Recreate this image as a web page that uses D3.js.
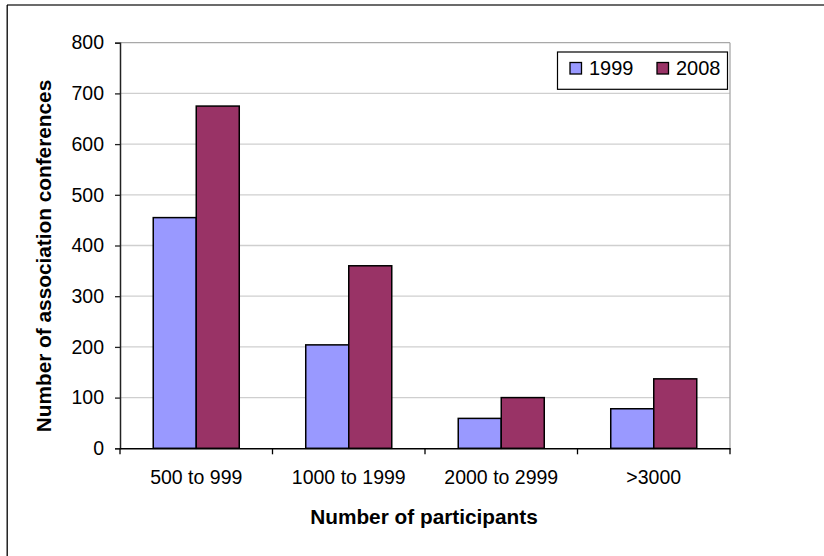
<!DOCTYPE html>
<html>
<head>
<meta charset="utf-8">
<script src="https://cdn.jsdelivr.net/npm/d3@7"></script>
<style>
  html, body { margin: 0; padding: 0; background: #fff; }
  svg { display: block; font-family: "Liberation Sans", Arial, sans-serif; }
</style>
</head>
<body>
<svg id="chart" width="824" height="556"></svg>
<script>
const categories = ["500 to 999", "1000 to 1999", "2000 to 2999", ">3000"];
const seriesNames = ["1999", "2008"];
const values1999 = [455, 204, 59, 78];
const values2008 = [675, 360, 100, 137];
const yTicks = [0, 100, 200, 300, 400, 500, 600, 700, 800];
const colors = ["#9999FF", "#993366"];

const svg = d3.select("#chart");
const W = 824, H = 556;
const plot = { left: 120, right: 730, top: 42.7, bottom: 448.3 };

// outer frame (top and left only, as in the cropped reference)
svg.append("line").attr("x1", 7).attr("x2", W).attr("y1", 5).attr("y2", 5)
  .attr("stroke", "#3a3a3a").attr("stroke-width", 1.5);
svg.append("line").attr("x1", 7.2).attr("x2", 7.2).attr("y1", 5).attr("y2", H)
  .attr("stroke", "#000").attr("stroke-width", 1.3);

const x0 = d3.scaleBand().domain(categories).range([plot.left, plot.right]).padding(0);
const groupFrac = 0.564;
const bw = x0.bandwidth();
const x1 = d3.scaleBand().domain(seriesNames)
  .range([bw * (1 - groupFrac) / 2, bw * (1 + groupFrac) / 2]).padding(0);
const y = d3.scaleLinear().domain([0, 800]).range([plot.bottom, plot.top]);

// gridlines
svg.append("g").selectAll("line").data(yTicks.filter(d => d > 0)).join("line")
  .attr("x1", plot.left).attr("x2", plot.right)
  .attr("y1", d => y(d)).attr("y2", d => y(d))
  .attr("stroke", d => d === 800 ? "#a8a8a8" : "#cfcfcf").attr("stroke-width", 1.3);
// right border of plot
svg.append("line").attr("x1", plot.right).attr("x2", plot.right)
  .attr("y1", plot.top).attr("y2", plot.bottom)
  .attr("stroke", "#a8a8a8").attr("stroke-width", 1.3);

// bars
const data = categories.map((c, i) => ({ cat: c, vals: [values1999[i], values2008[i]] }));
const groups = svg.append("g").selectAll("g").data(data).join("g")
  .attr("transform", d => `translate(${x0(d.cat)},0)`);
groups.selectAll("rect").data(d => d.vals.map((v, j) => ({ s: seriesNames[j], v, j })))
  .join("rect")
  .attr("x", d => x1(d.s))
  .attr("width", x1.bandwidth())
  .attr("y", d => y(d.v))
  .attr("height", d => y(0) - y(d.v))
  .attr("fill", d => colors[d.j])
  .attr("stroke", "#000").attr("stroke-width", 1.5);

// y axis
const yAxis = svg.append("g").attr("transform", `translate(${plot.left},0)`)
  .call(d3.axisLeft(y).tickValues(yTicks).tickSize(5).tickPadding(11).tickFormat(d3.format("d")));
yAxis.select(".domain").attr("stroke", "#222").attr("stroke-width", 1.5);
yAxis.selectAll(".tick line").attr("stroke", "#222").attr("stroke-width", 1.3);
yAxis.selectAll("text").attr("font-size", "19.5px").attr("fill", "#000")
  .attr("font-family", "'Liberation Sans', Arial, sans-serif");

// x axis
const xAxis = svg.append("g").attr("transform", `translate(0,${plot.bottom})`)
  .call(d3.axisBottom(x0).tickSize(0).tickPadding(21.5));
xAxis.select(".domain").attr("stroke", "#000").attr("stroke-width", 1.5);
xAxis.selectAll("text").attr("font-size", "19.5px").attr("fill", "#000")
  .attr("font-family", "'Liberation Sans', Arial, sans-serif");
const boundaries = categories.map(c => x0(c)).concat([x0.range()[1]]);
xAxis.append("g").selectAll("line").data(boundaries).join("line")
  .attr("x1", d => d).attr("x2", d => d).attr("y1", 0).attr("y2", 6)
  .attr("stroke", "#000").attr("stroke-width", 1.3);

// axis titles
svg.append("text")
  .attr("x", 424).attr("y", 524)
  .attr("text-anchor", "middle").attr("font-weight", "bold").attr("font-size", "20.8px")
  .text("Number of participants");
svg.append("text")
  .attr("transform", `translate(51,${(80 + 432) / 2}) rotate(-90)`)
  .attr("text-anchor", "middle").attr("font-weight", "bold").attr("font-size", "20.8px")
  .text("Number of association conferences");

// legend
const legend = svg.append("g");
legend.append("rect").attr("x", 557.5).attr("y", 52).attr("width", 170).attr("height", 37.3)
  .attr("fill", "#fff").attr("stroke", "#000").attr("stroke-width", 1.2);
const legendItems = [
  { name: seriesNames[0], color: colors[0], sx: 570, tx: 589 },
  { name: seriesNames[1], color: colors[1], sx: 657, tx: 676 }
];
legendItems.forEach(it => {
  legend.append("rect").attr("x", it.sx).attr("y", 62.5).attr("width", 11.5).attr("height", 11.5)
    .attr("fill", it.color).attr("stroke", "#000").attr("stroke-width", 1.3);
  legend.append("text").attr("x", it.tx).attr("y", 75.3).attr("font-size", "20px").text(it.name);
});
</script>
</body>
</html>
